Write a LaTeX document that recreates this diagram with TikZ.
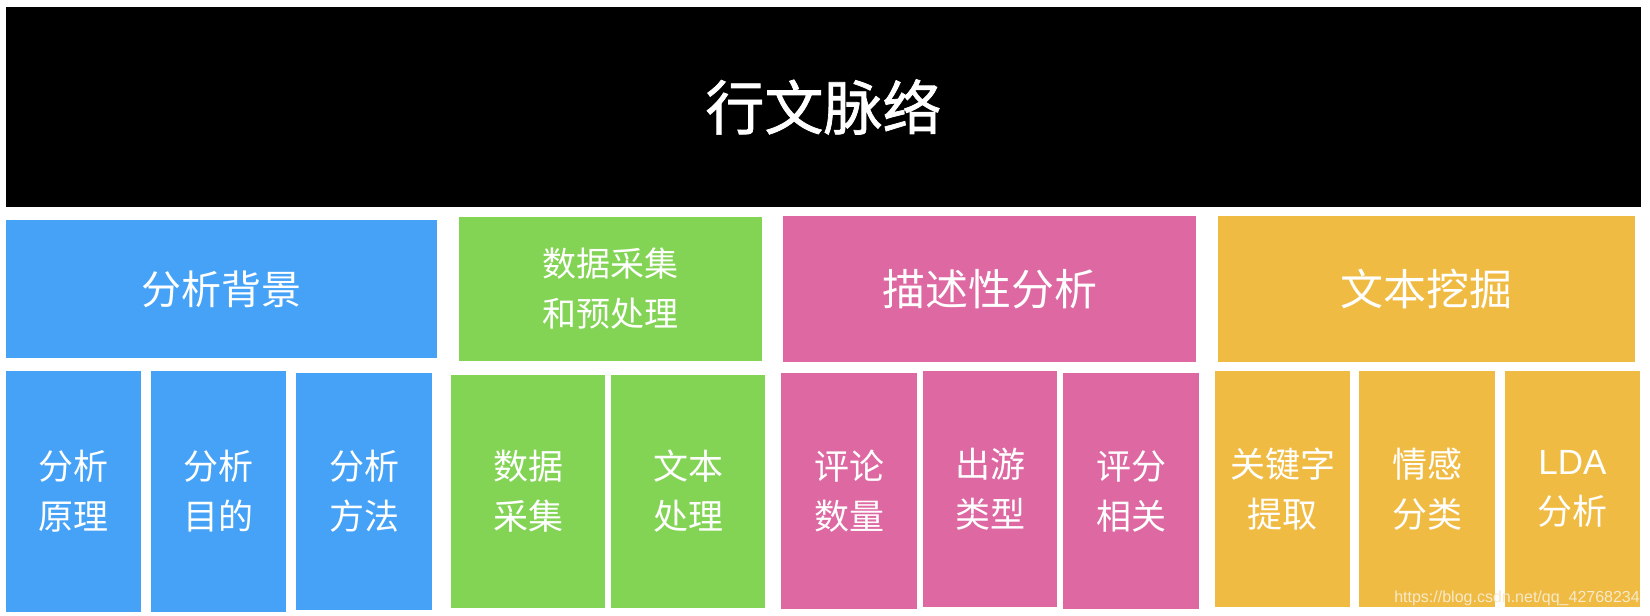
\documentclass[tikz,border=0pt]{standalone}
\usepackage{fontspec}
\setmainfont{Noto Sans CJK SC}
\newfontfamily\titlefont[FakeBold=1.2]{Noto Sans CJK SC}
\newfontfamily\wmfont{Liberation Sans}
\definecolor{bgblue}{RGB}{69,162,247}
\definecolor{bggreen}{RGB}{131,212,85}
\definecolor{bgpink}{RGB}{221,104,162}
\definecolor{bgorange}{RGB}{240,187,66}
\definecolor{wmgray}{RGB}{246,234,204}
\begin{document}
\begin{tikzpicture}[x=1pt,y=-1pt,
    cell/.style={fill=#1,text=white,inner sep=0pt,outer sep=0pt,align=center,anchor=north west},
    small/.style={font=\fontsize{35}{50}\selectfont},
    big/.style={font=\fontsize{43}{50}\selectfont}]
\useasboundingbox[fill=white] (0,0) rectangle (1650,616);
% title bar
\node[cell=black,minimum width=1635,minimum height=200,font=\fontsize{59}{70}\titlefont] (title) at (6,7) {行文脉络};
% second row
\node[cell=bgblue,minimum width=431,minimum height=138,font=\fontsize{40}{50}\selectfont] (bg) at (6,220) {分析背景};
\node[cell=bggreen,minimum width=303,minimum height=144,font=\fontsize{34}{50}\selectfont] (data) at (459,217) {数据采集\\和预处理};
\node[cell=bgpink,minimum width=413,minimum height=146,big] (desc) at (783,216) {描述性分析};
\node[cell=bgorange,minimum width=417,minimum height=146,big] (mine) at (1218,216) {文本挖掘};
% third row
\foreach \n/\xa/\ya/\xb/\yb/\c/\t in {
    yl/6/371/141/612/bgblue/{分析\\原理},
    md/151/371/286/612/bgblue/{分析\\目的},
    ff/296/373/432/610/bgblue/{分析\\方法},
    cj/451/375/605/608/bggreen/{数据\\采集},
    cl/611/375/765/608/bggreen/{文本\\处理},
    sl/781/373/917/609/bgpink/{评论\\数量},
    lx/923/371/1057/607/bgpink/{出游\\类型},
    xg/1063/373/1199/609/bgpink/{评分\\相关},
    gjz/1215/371/1350/607/bgorange/{关键字\\提取},
    qg/1359/371/1495/607/bgorange/{情感\\分类},
    lda/1505/371/1640/607/bgorange/{{\wmfont LDA}\\分析}}
    \node[cell=\c,small,minimum width={\xb-\xa},minimum height={\yb-\ya}] (\n) at (\xa,\ya) {\t};
\node[anchor=east,inner sep=0pt,text=wmgray,font=\fontsize{16}{16}\selectfont\wmfont] (wm) at (1640,598) {https://blog.csdn.net/qq\_42768234};
\end{tikzpicture}
\end{document}
